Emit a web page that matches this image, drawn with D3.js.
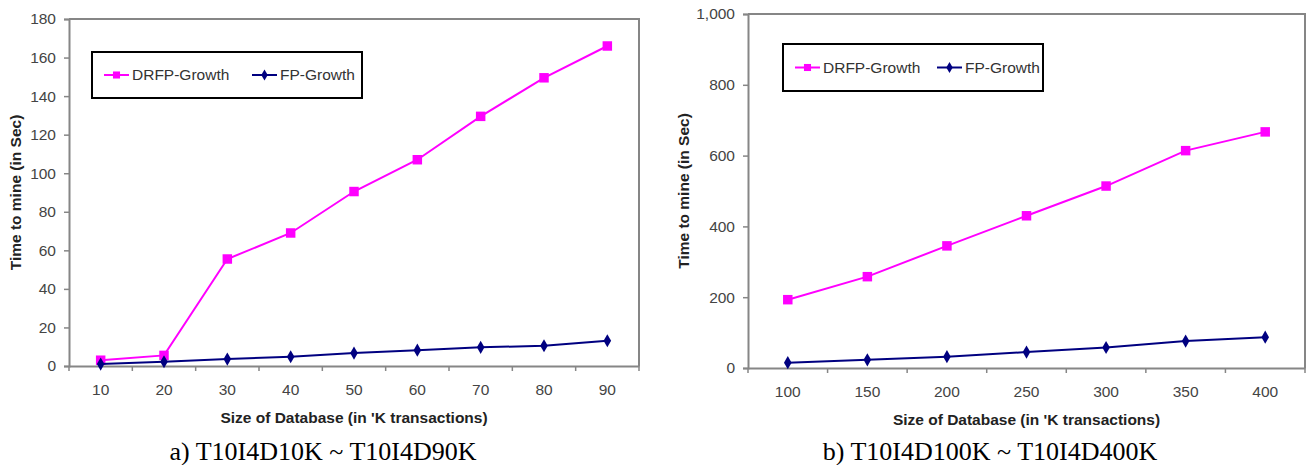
<!DOCTYPE html>
<html>
<head>
<meta charset="utf-8">
<script src="https://cdn.jsdelivr.net/npm/d3@7"></script>
<style>
  body { margin: 0; background: #fff; }
  svg text { font-family: Arial, "Liberation Sans", sans-serif; }
  svg text.caption { font-family: "Liberation Serif", "Times New Roman", serif; }
</style>
</head>
<body>
<svg id="chart" width="1307" height="465"></svg>
<script>
// ---------------------------------------------------------------
//    DATA
// ---------------------------------------------------------------
const seriesNames = ["DRFP-Growth", "FP-Growth"];
const seriesColors = ["#ff00ff", "#000080"];

// chart a) T10I4D10K ~ T10I4D90K
const sizesA = [10, 20, 30, 40, 50, 60, 70, 80, 90];
const drfpA = [3, 5.5, 55.5, 69, 90.5, 107, 129.5, 149.5, 166];
const fpA = [1, 2.2, 3.6, 4.8, 6.7, 8.2, 9.7, 10.5, 13.1];
const yTicksA = [0, 20, 40, 60, 80, 100, 120, 140, 160, 180];

// chart b) T10I4D100K ~ T10I4D400K
const sizesB = [100, 150, 200, 250, 300, 350, 400];
const drfpB = [193, 258, 345, 430, 514, 614, 667];
const fpB = [15, 23, 32, 45, 58, 76, 87];
const yTicksB = [0, 200, 400, 600, 800, 1000];

const xTitle = "Size of Database (in 'K transactions)";
const yTitle = "Time to mine (in Sec)";

const svg = d3.select("#chart");

// Draws one Excel-style line chart inside the given box
function drawChart(opts) {
    let g = svg.append("g");

    let x = d3.scaleBand()
        .domain(opts.sizes)
        .range([opts.left, opts.right]);

    let y = d3.scaleLinear()
        .domain([0, opts.yMax])
        .range([opts.bottom, opts.top]);

    // plot frame (top + right sides)
    g.append("path")
        .attr("d", `M${opts.left},${opts.top}H${opts.right}V${opts.bottom}`)
        .attr("fill", "none")
        .attr("stroke", "#868686")
        .attr("stroke-width", 2);

    // y axis
    let yAxis = d3.axisLeft(y)
        .tickValues(opts.yTicks)
        .tickSize(5)
        .tickPadding(8)
        .tickFormat(d3.format(","));
    let ya = g.append("g")
        .attr("transform", `translate(${opts.left},0)`)
        .call(yAxis);

    // x axis, ticks sit between the categories
    let xAxis = d3.axisBottom(x).tickSize(0).tickPadding(18);
    let xa = g.append("g")
        .attr("transform", `translate(0,${opts.bottom})`)
        .call(xAxis);
    let bounds = opts.sizes.map(d => x(d)).concat([opts.right]);
    xa.selectAll(".sep")
        .data(bounds)
        .join("line")
        .attr("class", "sep")
        .attr("x1", d => d).attr("x2", d => d)
        .attr("y1", 0).attr("y2", 5);

    [ya, xa].forEach(a => {
        a.selectAll("path.domain").attr("stroke", "#868686").attr("stroke-width", 2);
        a.selectAll("line").attr("stroke", "#868686").attr("stroke-width", 1.5);
        a.selectAll("text").attr("font-size", 15.5).attr("fill", "#444");
    });

    // series lines + markers
    let series = [opts.drfp, opts.fp];
    series.forEach((vals, i) => {
        let pts = opts.sizes.map((s, j) => [x(s) + x.bandwidth() / 2, y(vals[j])]);
        g.append("path")
            .attr("d", d3.line()(pts))
            .attr("fill", "none")
            .attr("stroke", seriesColors[i])
            .attr("stroke-width", 2);
        let sym = i === 0
            ? d3.symbol(d3.symbolSquare, 90)
            : d3.symbol(d3.symbolDiamond, 50);
        g.selectAll(null)
            .data(pts)
            .join("path")
            .attr("transform", d => `translate(${d[0]},${d[1]})`)
            .attr("d", sym)
            .attr("fill", seriesColors[i]);
    });

    // legend
    let lg = g.append("g").attr("transform", `translate(${opts.legend.x},${opts.legend.y})`);
    lg.append("rect")
        .attr("width", opts.legend.w)
        .attr("height", opts.legend.h)
        .attr("fill", "#fff")
        .attr("stroke", "#000")
        .attr("stroke-width", 2);
    let ly = opts.legend.h / 2;
    seriesNames.forEach((name, i) => {
        let lx = 12 + i * opts.legend.gap;
        lg.append("line")
            .attr("x1", lx).attr("x2", lx + 25)
            .attr("y1", ly).attr("y2", ly)
            .attr("stroke", seriesColors[i])
            .attr("stroke-width", 2);
        lg.append("path")
            .attr("transform", `translate(${lx + 12.5},${ly})`)
            .attr("d", i === 0 ? d3.symbol(d3.symbolSquare, 50) : d3.symbol(d3.symbolDiamond, 36))
            .attr("fill", seriesColors[i]);
        lg.append("text")
            .attr("x", lx + 28)
            .attr("y", ly)
            .attr("dy", "0.35em")
            .attr("font-size", 15.5)
            .attr("fill", "#333")
            .text(name);
    });

    // axis titles
    g.append("text")
        .attr("x", (opts.left + opts.right) / 2)
        .attr("y", opts.bottom + 57)
        .attr("text-anchor", "middle")
        .attr("font-size", 15.5)
        .attr("font-weight", "bold")
        .attr("fill", "#222")
        .text(xTitle);
    g.append("text")
        .attr("transform", `translate(${opts.yTitleX},${(opts.top + opts.bottom) / 2}) rotate(-90)`)
        .attr("text-anchor", "middle")
        .attr("dy", "0.35em")
        .attr("font-size", 15.5)
        .attr("font-weight", "bold")
        .attr("fill", "#222")
        .text(yTitle);

    // caption
    g.append("text")
        .attr("class", "caption")
        .attr("x", opts.captionX)
        .attr("y", 460)
        .attr("text-anchor", "middle")
        .attr("font-size", 26)
        .attr("fill", "#000")
        .text(opts.caption);
}

drawChart({
    sizes: sizesA, drfp: drfpA, fp: fpA, yTicks: yTicksA, yMax: 180,
    left: 69, right: 639, top: 19, bottom: 366,
    legend: { x: 92, y: 52, w: 270, h: 46, gap: 148 },
    yTitleX: 16, captionX: 323,
    caption: "a) T10I4D10K ~ T10I4D90K"
});

drawChart({
    sizes: sizesB, drfp: drfpB, fp: fpB, yTicks: yTicksB, yMax: 1000,
    left: 748, right: 1305, top: 14, bottom: 368,
    legend: { x: 783, y: 44, w: 260, h: 47, gap: 142 },
    yTitleX: 684, captionX: 990,
    caption: "b) T10I4D100K ~ T10I4D400K"
});
</script>
</body>
</html>
